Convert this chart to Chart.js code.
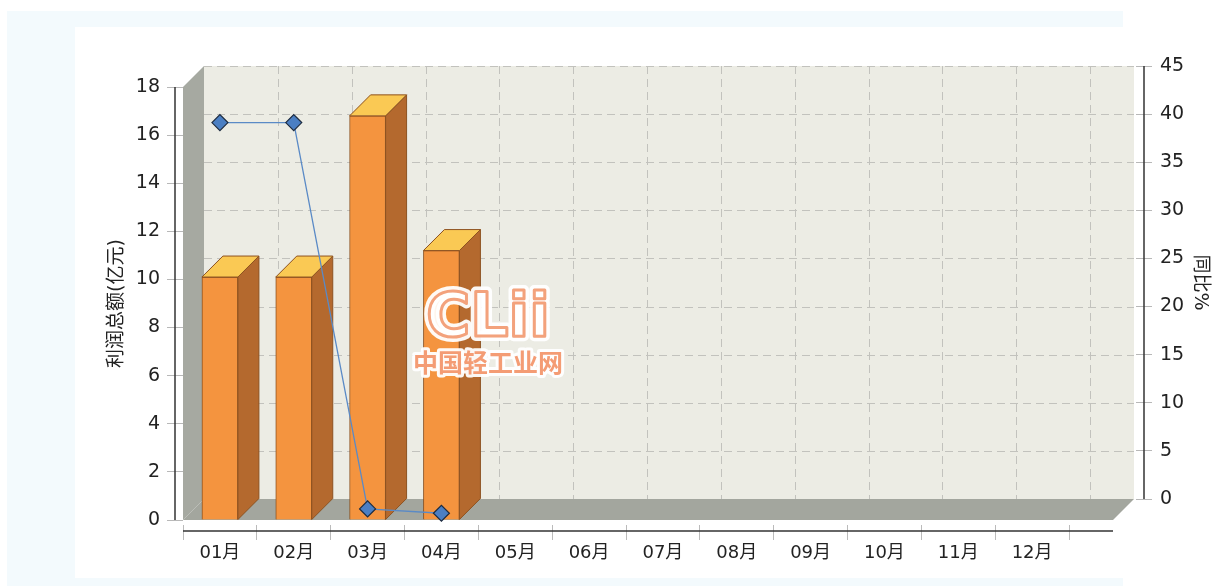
<!DOCTYPE html>
<html>
<head>
<meta charset="utf-8">
<script src="https://cdn.jsdelivr.net/npm/chart.js@4.4.1/dist/chart.umd.min.js"></script>
<style>
html, body { margin: 0; padding: 0; background: #fff; }
#myChart { display: block; width: 1215px; height: 586px; }
</style>
</head>
<body>
<canvas id="myChart" width="1215" height="586"></canvas>
<script>
var months = ['01月', '02月', '03月', '04月', '05月', '06月', '07月', '08月', '09月', '10月', '11月', '12月'];
var profit = [10.1, 10.1, 16.8, 11.2, null, null, null, null, null, null, null, null];
var growth = [41.3, 41.3, 1.15, 0.7, null, null, null, null, null, null, null, null];
var profitTicks = { min: 0, max: 18, step: 2 };
var growthTicks = { min: 0, max: 45, step: 5 };

var DX = 21, DY = 21;     // 3d depth
var EXTRA = 44;           // floor runs past the last month
var Y1_SHIFT_X = 67;      // right axis sits on the back plane

var fontFamily = '"DejaVu Sans", "Noto Sans CJK SC", sans-serif';
Chart.defaults.font.family = fontFamily;
Chart.defaults.color = '#222';

function shiftScale(scale, dx, dy) {
    if (scale._shifted) return;
    var orig = scale.draw;
    scale.draw = function (area) {
        var c = this.ctx;
        c.save();
        c.translate(dx, dy);
        orig.call(this, area);
        c.restore();
    };
    scale._shifted = true;
}

var threeD = {
    id: 'threeD',
    beforeLayout: function (chart) {
        if (chart.scales.y1) shiftScale(chart.scales.y1, Y1_SHIFT_X, -DY);
        if (chart.scales.x) shiftScale(chart.scales.x, 0, 5);
    },
    beforeDraw: function (chart) {
        var c = chart.ctx;
        c.save();
        c.fillStyle = '#ffffff';
        c.fillRect(0, 0, chart.width, chart.height);
        c.fillStyle = '#f3fafd';
        c.fillRect(7, 11, 1116, 580);
        c.fillStyle = '#ffffff';
        c.fillRect(75, 27, 1140, 551);
        c.restore();
    },
    beforeDatasetsDraw: function (chart) {
        var c = chart.ctx, a = chart.chartArea;
        var x = chart.scales.x, y = chart.scales.y;
        var L = a.left, R = a.right + EXTRA, T = a.top, B = a.bottom;
        c.save();
        // back wall
        c.fillStyle = '#ecece4';
        c.fillRect(L + DX, T - DY, R - L, B - T);
        // left wall
        c.fillStyle = '#a6a9a1';
        c.beginPath();
        c.moveTo(L, T); c.lineTo(L + DX, T - DY); c.lineTo(L + DX, B - DY); c.lineTo(L, B);
        c.closePath(); c.fill();
        // floor
        c.fillStyle = '#a3a69e';
        c.beginPath();
        c.moveTo(L, B); c.lineTo(L + DX, B - DY); c.lineTo(R + DX, B - DY); c.lineTo(R, B);
        c.closePath(); c.fill();
        // dashed grid on the back wall
        c.strokeStyle = '#c2c2bd';
        c.lineWidth = 1;
        c.setLineDash([8, 5]);
        y.ticks.forEach(function (t) {
            if (t.value === 0) return;
            var py = Math.round(y.getPixelForValue(t.value) - DY) + 0.5;
            c.beginPath(); c.moveTo(L + DX, py); c.lineTo(R + DX, py); c.stroke();
        });
        var step = x.getPixelForValue(1) - x.getPixelForValue(0);
        var start = x.getPixelForValue(0) - step / 2;
        for (var k = 1; k <= months.length; k++) {
            var px = Math.round(start + k * step + DX) + 0.5;
            c.beginPath(); c.moveTo(px, T - DY); c.lineTo(px, B - DY); c.stroke();
        }
        c.setLineDash([]);
        // axis lines
        c.strokeStyle = '#333';
        c.lineWidth = 1.5;
        c.beginPath(); c.moveTo(L - 8, T); c.lineTo(L - 8, B); c.stroke();
        c.beginPath(); c.moveTo(R + DX + 10, T - DY); c.lineTo(R + DX + 10, B - DY); c.stroke();
        c.beginPath(); c.moveTo(L, B + 11); c.lineTo(R, B + 11); c.stroke();
        c.restore();
    },
    afterDatasetDraw: function (chart, args) {
        if (args.meta.type !== 'bar') return;
        var c = chart.ctx;
        var values = chart.data.datasets[args.index].data;
        c.save();
        c.lineWidth = 1;
        c.strokeStyle = '#8d5220';
        args.meta.data.forEach(function (bar, i) {
            if (values[i] == null) return;
            var p = bar.getProps(['x', 'y', 'base', 'width'], true);
            var l = p.x - p.width / 2, r = p.x + p.width / 2;
            c.fillStyle = '#b4692e';
            c.beginPath();
            c.moveTo(r, p.y); c.lineTo(r + DX, p.y - DY); c.lineTo(r + DX, p.base - DY); c.lineTo(r, p.base);
            c.closePath(); c.fill(); c.stroke();
            c.fillStyle = '#fac954';
            c.beginPath();
            c.moveTo(l, p.y); c.lineTo(l + DX, p.y - DY); c.lineTo(r + DX, p.y - DY); c.lineTo(r, p.y);
            c.closePath(); c.fill(); c.stroke();
        });
        c.restore();
    },
    afterDraw: function (chart) {
        var c = chart.ctx;
        c.save();
        c.textAlign = 'center';
        c.textBaseline = 'middle';
        c.lineJoin = 'round';
        c.font = 'bold 60px "DejaVu Sans", sans-serif';
        c.strokeStyle = 'rgba(255,255,255,0.95)';
        c.lineWidth = 10;
        c.strokeText('CLii', 488, 320);
        c.fillStyle = 'rgba(255,255,255,0.9)';
        c.fillText('CLii', 488, 320);
        c.strokeStyle = '#f3a27c';
        c.lineWidth = 3;
        c.strokeText('CLii', 488, 320);
        c.font = 'bold 25px "Noto Sans CJK SC", sans-serif';
        c.strokeStyle = 'rgba(255,255,255,0.95)';
        c.lineWidth = 6;
        c.strokeText('中国轻工业网', 488, 362);
        c.fillStyle = '#f49c74';
        c.fillText('中国轻工业网', 488, 362);
        c.restore();
    }
};

var ctx = document.getElementById('myChart').getContext('2d');

var myChart = new Chart(ctx, {
    type: 'bar',
    data: {
        labels: months,
        datasets: [{
            type: 'line',
            label: '同比%',
            data: growth,
            yAxisID: 'y1',
            order: 1,
            borderColor: '#5a8ac6',
            borderWidth: 1.3,
            pointStyle: 'rectRot',
            pointRadius: 8,
            pointBackgroundColor: '#4b7fc3',
            pointBorderColor: '#1d2b3f',
            pointBorderWidth: 1.2,
            clip: false
        }, {
            type: 'bar',
            label: '利润总额(亿元)',
            data: profit,
            yAxisID: 'y',
            order: 2,
            backgroundColor: '#f4943f',
            borderColor: '#8d5220',
            borderWidth: 1,
            barThickness: 36
        }]
    },
    plugins: [threeD],
    options: {
        responsive: false,
        animation: false,
        layout: { padding: { left: 105, top: 87, right: 70, bottom: 0 } },
        plugins: {
            legend: { display: false },
            tooltip: { enabled: false }
        },
        scales: {
            x: {
                offset: true,
                border: { display: false },
                grid: { display: true, offset: true, drawOnChartArea: false, drawTicks: true, tickLength: 15, color: '#bbbbbb' },
                ticks: { padding: 3, font: { size: 18 }, color: '#222', maxRotation: 0 },
                afterFit: function (s) { s.height = 66; }
            },
            y: {
                position: 'left',
                min: profitTicks.min,
                max: profitTicks.max,
                border: { display: false },
                grid: { display: true, drawOnChartArea: false, drawTicks: true, tickLength: 16, color: '#b8b8b8' },
                ticks: { stepSize: profitTicks.step, padding: 7, font: { size: 19 }, color: '#222' },
                title: { display: true, text: '利润总额(亿元)', font: { size: 19 }, color: '#222', padding: { top: 1, bottom: 0 } },
                afterFit: function (s) { s.width = 78; }
            },
            y1: {
                position: 'right',
                min: growthTicks.min,
                max: growthTicks.max,
                border: { display: false },
                grid: { display: true, drawOnChartArea: false, drawTicks: true, tickLength: 16, color: '#b8b8b8' },
                ticks: { stepSize: growthTicks.step, padding: 8, font: { size: 19 }, color: '#222' },
                title: { display: true, text: '同比%', font: { size: 19 }, color: '#222', padding: { top: 1, bottom: 0 } },
                afterFit: function (s) { s.width = 76; }
            }
        }
    }
});
</script>
</body>
</html>
